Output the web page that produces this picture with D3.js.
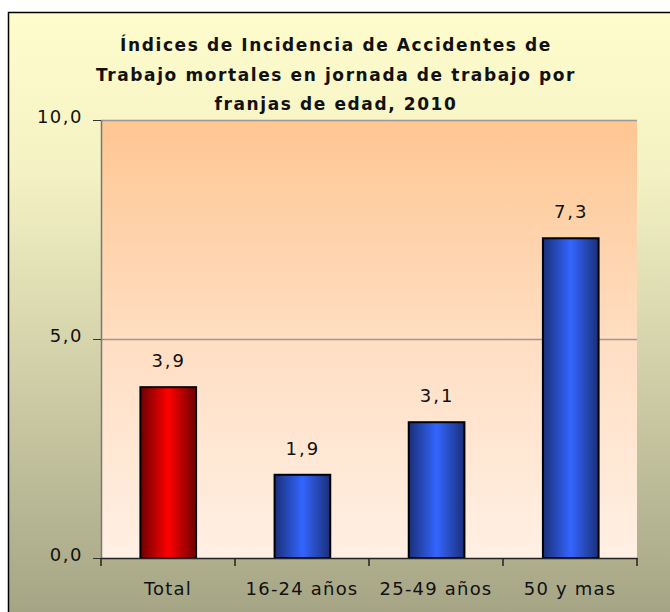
<!DOCTYPE html>
<html>
<head>
<meta charset="utf-8">
<script src="https://cdn.jsdelivr.net/npm/d3@7"></script>
<style>
body { margin: 0; background: #fff; }
</style>
</head>
<body>
<div id="chart"></div>
<script>
// datos
var categories = ["Total", "16-24 años", "25-49 años", "50 y mas"];
var values = [3.9, 1.9, 3.1, 7.3];
var yTicks = [0, 5, 10];
var titleLines = ["Índices de Incidencia de Accidentes de",
                  "Trabajo mortales en jornada de trabajo por",
                  "franjas de edad, 2010"];

var width = 670, height = 612;
var plotLeft = 101, plotRight = 637, plotTop = 120, plotBottom = 558;

var svg = d3.select("#chart").append("svg")
  .attr("width", width)
  .attr("height", height);

var defs = svg.append("defs");

// fondo exterior
var gOut = defs.append("linearGradient").attr("id", "outer")
  .attr("x1", 0).attr("y1", 0).attr("x2", 0).attr("y2", 1);
gOut.append("stop").attr("offset", "0%").attr("stop-color", "#fffccc");
gOut.append("stop").attr("offset", "25%").attr("stop-color", "#f4f2c4");
gOut.append("stop").attr("offset", "100%").attr("stop-color", "#9e9e80");

// fondo del area de trazado
var gPlot = defs.append("linearGradient").attr("id", "plot")
  .attr("x1", 0).attr("y1", 0).attr("x2", 0).attr("y2", 1);
gPlot.append("stop").attr("offset", "0%").attr("stop-color", "#fec692");
gPlot.append("stop").attr("offset", "55%").attr("stop-color", "#ffe0c6");
gPlot.append("stop").attr("offset", "100%").attr("stop-color", "#fff0e4");

function barGrad(id, dark, light) {
  var g = defs.append("linearGradient").attr("id", id)
    .attr("x1", 0).attr("y1", 0).attr("x2", 1).attr("y2", 0);
  g.append("stop").attr("offset", "0%").attr("stop-color", dark);
  g.append("stop").attr("offset", "50%").attr("stop-color", light);
  g.append("stop").attr("offset", "100%").attr("stop-color", dark);
}
barGrad("red", "#6e0000", "#ff0000");
barGrad("blue", "#1a2f78", "#3366ff");

svg.append("rect")
  .attr("x", 8.5).attr("y", 12.5)
  .attr("width", 700).attr("height", 640)
  .attr("fill", "url(#outer)")
  .attr("stroke", "#000").attr("stroke-width", 1.5);

var x = d3.scaleBand().domain(categories).range([plotLeft, plotRight]).paddingInner(0.585).paddingOuter(0.29);
var xb = d3.scaleBand().domain(categories).range([plotLeft, plotRight]);
var y = d3.scaleLinear().domain([0, 10]).range([plotBottom, plotTop]);

svg.append("rect")
  .attr("x", plotLeft).attr("y", plotTop)
  .attr("width", plotRight - plotLeft).attr("height", plotBottom - plotTop)
  .attr("fill", "url(#plot)");

// lineas de cuadricula
svg.selectAll(".grid").data(yTicks.filter(function(d){ return d > 0; })).enter()
  .append("line")
  .attr("x1", plotLeft).attr("x2", plotRight)
  .attr("y1", function(d){ return y(d) + 0.5; })
  .attr("y2", function(d){ return y(d) + 0.5; })
  .attr("stroke", "#999").attr("stroke-width", 1.5);

// eje Y
var yAxis = svg.append("g")
  .attr("transform", "translate(" + plotLeft + ",0)")
  .call(d3.axisLeft(y).tickValues(yTicks).tickSize(8).tickSizeOuter(0)
    .tickFormat(function(d){ return d3.format(".1f")(d).replace(".", ","); }));
yAxis.select(".domain").attr("stroke", "#777").attr("stroke-width", 1.5);
yAxis.selectAll(".tick line").attr("stroke", "#333");
yAxis.selectAll("text")
  .attr("font-family", "DejaVu Sans").attr("font-size", 18).attr("fill", "#111")
  .attr("x", -18).attr("dy", "0.15em")
  .style("letter-spacing", "1.5px");

// barras
svg.selectAll(".bar").data(values).enter()
  .append("rect")
  .attr("x", function(d, i){ return x(categories[i]) + 0.5; })
  .attr("y", function(d){ return y(d); })
  .attr("width", x.bandwidth())
  .attr("height", function(d){ return y(0) - y(d); })
  .attr("fill", function(d, i){ return i === 0 ? "url(#red)" : "url(#blue)"; })
  .attr("stroke", "#000").attr("stroke-width", 2);

// etiquetas de valor
svg.selectAll(".lbl").data(values).enter()
  .append("text")
  .attr("x", function(d, i){ return x(categories[i]) + x.bandwidth() / 2 + 1; })
  .attr("y", function(d){ return y(d) - 20; })
  .attr("text-anchor", "middle")
  .attr("font-family", "DejaVu Sans").attr("font-size", 18).attr("fill", "#111")
  .style("letter-spacing", "2px")
  .text(function(d){ return d3.format(".1f")(d).replace(".", ","); });

// eje X
var xAxis = svg.append("g")
  .attr("transform", "translate(0," + plotBottom + ")")
  .call(d3.axisBottom(xb).tickSize(0).tickSizeOuter(0));
xAxis.select(".domain").attr("stroke", "#222").attr("stroke-width", 1.5);
xAxis.selectAll("text")
  .attr("font-family", "DejaVu Sans").attr("font-size", 18).attr("fill", "#111")
  .attr("dy", "1.9em")
  .style("letter-spacing", "1.2px");
svg.selectAll(".xt").data(d3.range(categories.length + 1)).enter()
  .append("line")
  .attr("x1", function(d){ return plotLeft + d * xb.step(); })
  .attr("x2", function(d){ return plotLeft + d * xb.step(); })
  .attr("y1", plotBottom).attr("y2", plotBottom + 8)
  .attr("stroke", "#222").attr("stroke-width", 1.5);

// titulo
svg.selectAll(".title").data(titleLines).enter()
  .append("text")
  .attr("x", 336)
  .attr("y", function(d, i){ return 51 + i * 29.5; })
  .attr("text-anchor", "middle")
  .attr("font-family", "DejaVu Sans").attr("font-weight", "bold")
  .attr("font-size", 17).attr("fill", "#111")
  .style("letter-spacing", "1.6px")
  .text(function(d){ return d; });
</script>
</body>
</html>
